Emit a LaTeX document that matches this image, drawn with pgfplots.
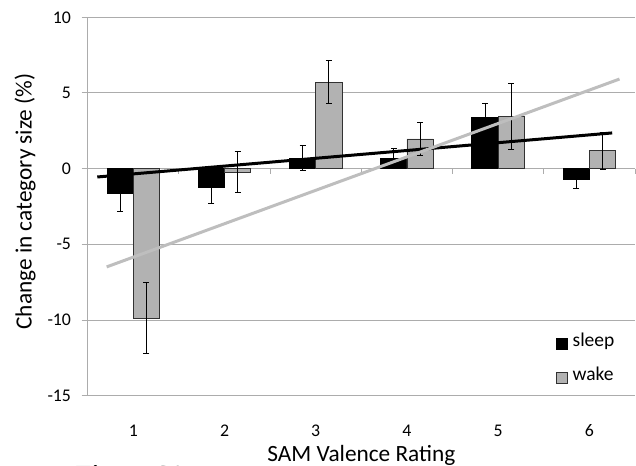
\documentclass[border=0pt]{standalone}
\usepackage{fontspec}
\setmainfont{Carlito}
\newfontfamily\figfont{Liberation Serif}
\usepackage{pgfplots}
\usepackage{pgfplotstable}
\pgfplotsset{compat=1.18}
\definecolor{gridgray}{RGB}{172,172,172}
\definecolor{wakegray}{RGB}{178,178,178}
\definecolor{trendgray}{RGB}{190,190,190}
\definecolor{edgegray}{RGB}{50,50,50}

\pgfplotstableread{
x sleep sleeperr wake wakeerr
1 -1.65 1.21 -9.87 2.36
2 -1.23 1.04 -0.22 1.36
3 0.70 0.83 5.72 1.40
4 0.70 0.64 1.96 1.09
5 3.41 0.93 3.45 2.18
6 -0.73 0.61 1.19 1.21
}\datatable

\begin{document}
\begin{tikzpicture}
\begin{axis}[
  name=ax, at={(0,0)}, anchor=south west,
  scale only axis, width=547.3pt, height=378.4pt,
  xmin=0.5, xmax=6.5, ymin=-15, ymax=10,
  axis x line*=bottom, x axis line style={draw=none},
  axis y line*=left, y axis line style={gridgray, line width=1pt},
  xtick={1,2,3,4,5,6},
  xticklabels={1,2,3,4,5,6},
  xtick style={draw=none},
  ytick={-15,-10,-5,0,5,10},
  yticklabels={-15,-10,-5,0,5,10},
  ytick style={gridgray, line width=1pt},
  tick align=outside, major tick length=6pt,
  ymajorgrids, grid style={gridgray, line width=1pt},
  tick label style={font=\fontsize{17.8}{20}\selectfont},
  xticklabel style={anchor=base, yshift=-35pt},
  yticklabel style={anchor=east, inner sep=0pt, xshift=-10.5pt},
  legend style={at={(axis cs:5.63,-12.67)}, anchor=west, draw=none, fill=none,
    inner sep=0pt, row sep=17pt, column sep=5pt,
    font=\fontsize{19.5}{22}\selectfont,
    nodes={inner sep=0pt, text height=12pt, text depth=5pt}},
  legend cell align=left,
  clip=false,
]
\draw[gridgray, line width=1pt] (axis cs:0.5,0) -- (axis cs:6.5,0);
\pgfplotsinvokeforeach{1.5,2.5,3.5,4.5,5.5,6.5}{
  \draw[gridgray, line width=1pt] (axis cs:#1,0) -- ([yshift=-5pt]axis cs:#1,0);
}
\addplot[ybar, bar width=26.3pt, bar shift=0pt, fill=black, draw=black, line width=0.8pt,
  legend image code/.code={\draw[fill=black, draw=black] (0pt,-5.5pt) rectangle (11pt,5.5pt);},
  error bars/.cd, y dir=both, y explicit,
  error bar style={black, line width=0.9pt},
  error mark options={rotate=90, mark size=3pt, black, line width=0.9pt}]
  table[x expr=\thisrow{x}-0.1442, y=sleep, y error=sleeperr]{\datatable};
\addlegendentry{sleep}
\addplot[ybar, bar width=26.3pt, bar shift=0pt, fill=wakegray, draw=edgegray, line width=0.8pt,
  legend image code/.code={\draw[fill=wakegray, draw=edgegray, line width=0.8pt] (0pt,-5.5pt) rectangle (11pt,5.5pt);},
  error bars/.cd, y dir=both, y explicit,
  error bar style={black, line width=0.9pt},
  error mark options={rotate=90, mark size=3pt, black, line width=0.9pt}]
  table[x expr=\thisrow{x}+0.1442, y=wake, y error=wakeerr]{\datatable};
\addlegendentry{wake}
\addplot[sharp plot, no marks, black, line width=3pt, forget plot] coordinates {(0.605,-0.55) (6.25,2.36)};
\addplot[sharp plot, no marks, trendgray, line width=3pt, forget plot] coordinates {(0.708,-6.49) (6.33,5.92)};
\end{axis}
\node[anchor=base, font=\fontsize{23.3}{27}\selectfont] at ([yshift=-66pt]ax.south) {SAM Valence Rating};
\node[anchor=base, rotate=90, font=\fontsize{23.3}{27}\selectfont] at ([xshift=-56pt, yshift=5pt]ax.west) {Change in category size (\%)};
\node[anchor=north west, inner sep=0pt, font=\figfont\bfseries\fontsize{26}{30}\selectfont] at ([xshift=-12pt, yshift=-69.5pt]ax.south west) {Figure S1};
\pgfresetboundingbox
\path ([xshift=-87.7pt,yshift=-69.3pt]ax.south west) rectangle ([xshift=1pt,yshift=17.3pt]ax.north east);
\end{tikzpicture}
\end{document}
